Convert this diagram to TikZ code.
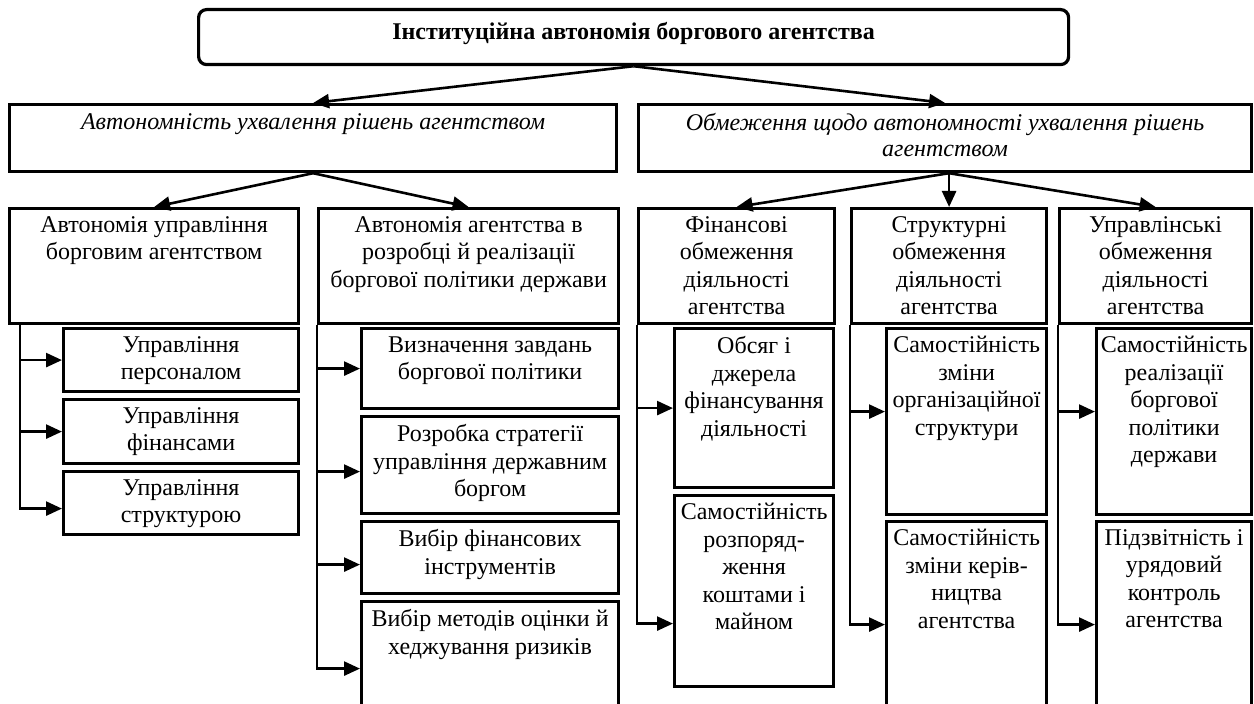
\documentclass[tikz,border=0pt]{standalone}
\usepackage{fontspec}
\setmainfont{Liberation Serif}
\usetikzlibrary{arrows.meta}

% box with its text set at the top
\newcommand{\cellbox}[6]{%
    \node[box,minimum width=#4*0.5pt,minimum height=#5*0.5pt] (#1) at (#2,#3) {};
    \node[txt] (#1t) at ([yshift=-4.5pt]#1.north) {#6};}

\begin{document}
\begin{tikzpicture}[x=0.5pt,y=-0.5pt,
    box/.style={draw,line width=1.6pt,rectangle,inner sep=0pt,anchor=north west},
    txt/.style={inner sep=0pt,anchor=north,align=center,font=\fontsize{12}{13.75}\selectfont},
    itxt/.style={inner sep=0pt,anchor=north,align=center,font=\fontsize{12}{13}\selectfont\itshape},
    arr/.style={-{Triangle[length=8pt,width=7pt]},line width=1.3pt},
    bus/.style={line width=1.3pt}]
    \useasboundingbox (0,0) rectangle (1254,704);
    \clip (0,0) rectangle (1254,704);
    % Top
    \node[box,rounded corners=4pt,minimum width=870*0.5pt,minimum height=55*0.5pt] (top) at (197,8) {};
    \node[inner sep=0pt,anchor=north,font=\fontsize{12}{13}\selectfont\bfseries] (topt) at ([yshift=-7pt]top.north) {Інституційна автономія боргового агентства};
    % Level one
    \node[box,minimum width=607*0.5pt,minimum height=67*0.5pt] (L1) at (8,103) {};
    \node[itxt] (L1t) at ([yshift=-5pt]L1.north) {Автономність ухвалення рішень агентством};
    \node[box,minimum width=613*0.5pt,minimum height=67*0.5pt] (R1) at (637,103) {};
    \node[itxt] (R1t) at ([yshift=-5pt]R1.north) {Обмеження щодо автономності ухвалення рішень\\агентством};
    \draw[arr] (top.south) -- (L1.north);
    \draw[arr] (top.south) -- (R1.north);
    % Level two
    \cellbox{A1}{8}{207}{289}{115}{Автономія управління\\борговим агентством}
    \cellbox{A2}{317}{207}{300}{115}{Автономія агентства в\\розробці й реалізації\\боргової політики держави}
    \cellbox{B1}{637}{207}{196}{115}{Фінансові\\обмеження\\діяльності\\агентства}
    \cellbox{B2}{850}{207}{195}{115}{Структурні\\обмеження\\діяльності\\агентства}
    \cellbox{B3}{1058}{207}{192}{115}{Управлінські\\обмеження\\діяльності\\агентства}
    \coordinate (r1out) at (R1.south -| B2.north);
    \draw[arr] (L1.south) -- (A1.north);
    \draw[arr] (L1.south) -- (A2.north);
    \draw[arr] (r1out) -- (B1.north);
    \draw[arr] (r1out) -- (B2.north);
    \draw[arr] (r1out) -- (B3.north);
    % Left branch
    \cellbox{P1}{62}{327}{235}{63}{Управління\\персоналом}
    \cellbox{P2}{62}{398}{235}{64}{Управління\\фінансами}
    \cellbox{P3}{62}{470}{235}{63}{Управління\\структурою}
    \coordinate (a1bus) at ([xshift=6pt]A1.south west);
    \coordinate (p3in) at ([yshift=-2.75pt]P3.west);
    \draw[arr] (a1bus) |- (p3in);
    \draw[arr] (a1bus |- P1.west) -- (P1.west);
    \draw[arr] (a1bus |- P2.west) -- (P2.west);
    % Second branch
    \cellbox{S1}{360}{327}{257}{80}{Визначення завдань\\боргової політики}
    \cellbox{S2}{360}{415}{257}{97}{Розробка стратегії\\управління державним\\боргом}
    \cellbox{S3}{360}{520}{257}{72}{Вибір фінансових\\інструментів}
    \cellbox{S4}{360}{600}{257}{134}{Вибір методів оцінки й\\хеджування ризиків}
    \coordinate (s2in) at ([yshift=-3.25pt]S2.west);
    \coordinate (s3in) at ([yshift=-3.5pt]S3.west);
    \draw[arr] (A2.south west) |- (S4.west);
    \draw[arr] (A2.south west |- S1.west) -- (S1.west);
    \draw[arr] (A2.south west |- s2in) -- (s2in);
    \draw[arr] (A2.south west |- s3in) -- (s3in);
    % Financial limits
    \cellbox{F1}{673}{327}{159}{159}{Обсяг і\\джерела\\фінансування\\діяльності}
    \cellbox{F2}{673}{494}{159}{191}{Самостійність\\розпоряд-\\ження\\коштами і\\майном}
    \coordinate (f2in) at ([yshift=-16.25pt]F2.west);
    \draw[arr] (B1.south west) |- (f2in);
    \draw[arr] (B1.south west |- F1.west) -- (F1.west);
    % Structural limits
    \cellbox{T1}{885}{327}{160}{186}{Самостійність\\зміни\\організаційної\\структури}
    \cellbox{T2}{885}{520}{160}{206}{Самостійність\\зміни керів-\\ництва\\агентства}
    \coordinate (t1in) at ([yshift=5pt]T1.west);
    \draw[arr] (B2.south west) |- (T2.west);
    \draw[arr] (B2.south west |- t1in) -- (t1in);
    % Managerial limits
    \cellbox{U1}{1095}{327}{155}{186}{Самостійність\\реалізації\\боргової\\політики\\держави}
    \cellbox{U2}{1095}{520}{155}{206}{Підзвітність і\\урядовий\\контроль\\агентства}
    \coordinate (u1in) at ([yshift=5pt]U1.west);
    \draw[arr] (B3.south west) |- (U2.west);
    \draw[arr] (B3.south west |- u1in) -- (u1in);
\end{tikzpicture}
\end{document}
